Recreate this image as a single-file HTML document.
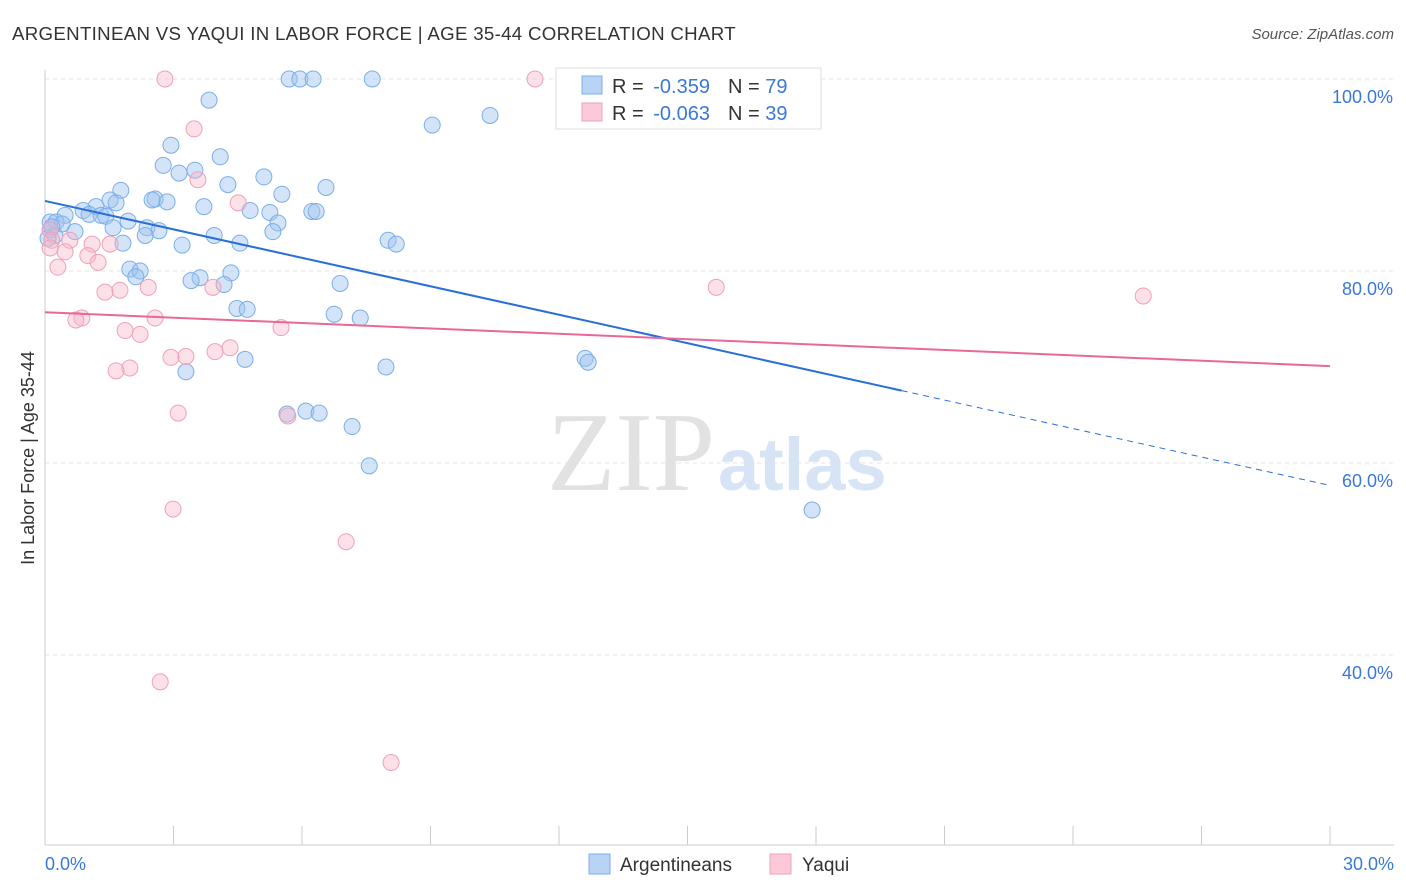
<!DOCTYPE html>
<html><head><meta charset="utf-8"><style>
body{margin:0;background:#fff;font-family:"Liberation Sans",sans-serif;}
svg{display:block}
</style></head><body>
<svg id="c" width="1406" height="892">
<text x="12" y="40" font-size="18.7" letter-spacing="0.3" fill="#333">ARGENTINEAN VS YAQUI IN LABOR FORCE | AGE 35-44 CORRELATION CHART</text>
<text x="1394" y="39" font-size="15" fill="#555" text-anchor="end" font-style="italic">Source: ZipAtlas.com</text>
<g id="grid"></g>
<text x="715" y="490" font-size="112" fill="#e2e2e2" text-anchor="end" font-family="Liberation Serif">ZIP</text>
<text x="718" y="490" font-size="74" fill="#d6e4f5" font-weight="bold">atlas</text>
<g id="marks"></g>
<text transform="translate(34,458) rotate(-90)" font-size="18" fill="#333" text-anchor="middle">In Labor Force | Age 35-44</text>
<g>
<rect x="556" y="68" width="265" height="61" fill="#fff" stroke="#ddd"/>
<rect x="582" y="76" width="20" height="18" fill="#b9d3f5" stroke="#7aaee8"/>
<rect x="582" y="103" width="20" height="18" fill="#fbc9d7" stroke="#f0a0b8"/>
<text x="612" y="93" font-size="20" fill="#333">R = <tspan dx="4" fill="#3a78d8">-0.359</tspan><tspan dx="18">N = </tspan><tspan fill="#3a78d8">79</tspan></text>
<text x="612" y="120" font-size="20" fill="#333">R = <tspan dx="4" fill="#3a78d8">-0.063</tspan><tspan dx="18">N = </tspan><tspan fill="#3a78d8">39</tspan></text>
</g>
<g>
<rect x="589" y="854" width="21" height="20" fill="#b9d3f5" stroke="#7aaee8"/>
<text x="620" y="871" font-size="19" fill="#333">Argentineans</text>
<rect x="770" y="854" width="21" height="20" fill="#fbc9d7" stroke="#f0a0b8"/>
<text x="802" y="871" font-size="19" fill="#333">Yaqui</text>
</g>
</svg>
<script>
const blueX=[5.70,5.95,6.26,7.64,3.83,9.04,10.39,2.94,4.09,2.76,3.50,3.13,5.11,4.27,6.56,1.77,5.53,2.57,2.50,2.85,1.52,1.66,3.71,4.79,6.23,6.33,5.25,1.19,0.89,0.47,1.03,1.31,1.42,1.94,0.12,0.26,0.40,5.44,1.59,2.38,2.66,0.70,3.95,5.32,0.23,2.34,1.82,3.20,4.55,8.01,8.20,1.98,2.22,2.12,4.34,3.62,3.41,4.18,6.89,4.48,4.72,6.75,7.36,12.61,12.68,4.67,3.29,7.96,5.65,6.09,6.40,7.17,7.57,17.91,0.12,0.07,0.16];
const blueY=[100,100,100,100,97.8,95.2,96.2,93.1,91.9,91.0,90.5,90.2,89.8,89.0,88.7,88.4,88.0,87.5,87.4,87.2,87.4,87.1,86.7,86.3,86.2,86.2,86.1,86.7,86.3,85.8,85.9,85.8,85.7,85.2,85.1,85.1,84.9,85.0,84.5,84.5,84.2,84.1,83.7,84.1,83.7,83.7,82.9,82.7,82.9,83.2,82.8,80.2,80.0,79.4,79.8,79.3,79.0,78.6,78.7,76.1,76.0,75.5,75.1,70.9,70.5,70.8,69.5,70.0,65.1,65.4,65.2,63.8,59.7,55.1,84.3,83.4,84.6];
const pinkX=[2.80,11.44,3.48,3.57,4.51,0.12,0.16,0.58,1.10,1.52,0.47,1.00,1.24,0.30,1.75,1.40,2.41,3.92,15.67,25.64,0.86,0.72,2.57,1.87,2.22,5.51,4.32,3.97,3.29,2.94,1.98,1.66,3.11,5.67,2.99,7.03,2.69,8.08,0.12];
const pinkY=[100,100,94.8,89.5,87.1,84.3,83.2,83.2,82.8,82.8,82.0,81.6,80.9,80.4,78.0,77.8,78.3,78.3,78.3,77.4,75.1,74.9,75.1,73.8,73.4,74.1,72.0,71.6,71.1,71.0,69.9,69.6,65.2,64.9,55.2,51.8,37.2,28.8,82.4];
const blueTrend=[87.3,-0.988]; const pinkTrend=[75.7,-0.187];
const yTicks=[100,80,60,40]; const xTicks=[0,3,6,9,12,15,18,21,24,27,30];
const X=v=>45+v/30*1285, Y=v=>79+(100-v)*9.6;
const NS="http://www.w3.org/2000/svg";
function mk(t,a,p){const e=document.createElementNS(NS,t);for(const k in a)e.setAttribute(k,a[k]);p.appendChild(e);return e;}
const g=document.getElementById('grid'), m=document.getElementById('marks');
yTicks.forEach(v=>{
 const l=mk('line',{x1:45,x2:1394,y1:Y(v),y2:Y(v),stroke:'#e6e6e6','stroke-dasharray':'4,4'},g);
 
 
 const t=mk('text',{x:1393,y:Y(v)+24,'font-size':18,fill:'#3a78d8','text-anchor':'end'},g);t.textContent=v.toFixed(1)+'%';
 
 
});
mk('line',{x1:45,x2:45,y1:70,y2:845,stroke:'#ccc'},g);
mk('line',{x1:45,x2:1394,y1:845,y2:845,stroke:'#ccc'},g);
xTicks.forEach(v=>{const l=mk('line',{x1:X(v),x2:X(v),y1:826,y2:845,stroke:'#ccc'},g);
 
 });
[[0,'0.0%','start',45],[30,'30.0%','end',1394]].forEach(d=>{const t=mk('text',{x:d[3],y:870,'font-size':18,fill:'#3a78d8','text-anchor':d[2]},g);t.textContent=d[1];
 
 });
function pts(xs,ys,fill,stroke,name){xs.forEach((x,i)=>{const c=mk('circle',{cx:X(x),cy:Y(ys[i]),r:8,fill:fill,stroke:stroke,'stroke-width':1},m);
 
 });}
pts(blueX,blueY,'rgba(160,196,240,0.45)','#7aaee8','argentinean-point');
pts(pinkX,pinkY,'rgba(248,180,200,0.4)','#f0a0b8','yaqui-point');
const f=(t,x)=>t[0]+t[1]*x;
let l1=mk('line',{x1:X(0),y1:Y(f(blueTrend,0)),x2:X(20),y2:Y(f(blueTrend,20)),stroke:'#2a6fd6','stroke-width':2},m);


let l2=mk('line',{x1:X(20),y1:Y(f(blueTrend,20)),x2:X(30),y2:Y(f(blueTrend,30)),stroke:'#2a6fd6','stroke-width':1,'stroke-dasharray':'6,5'},m);


let l3=mk('line',{x1:X(0),y1:Y(f(pinkTrend,0)),x2:X(30),y2:Y(f(pinkTrend,30)),stroke:'#e8689a','stroke-width':2},m);


</script>
</body></html>
